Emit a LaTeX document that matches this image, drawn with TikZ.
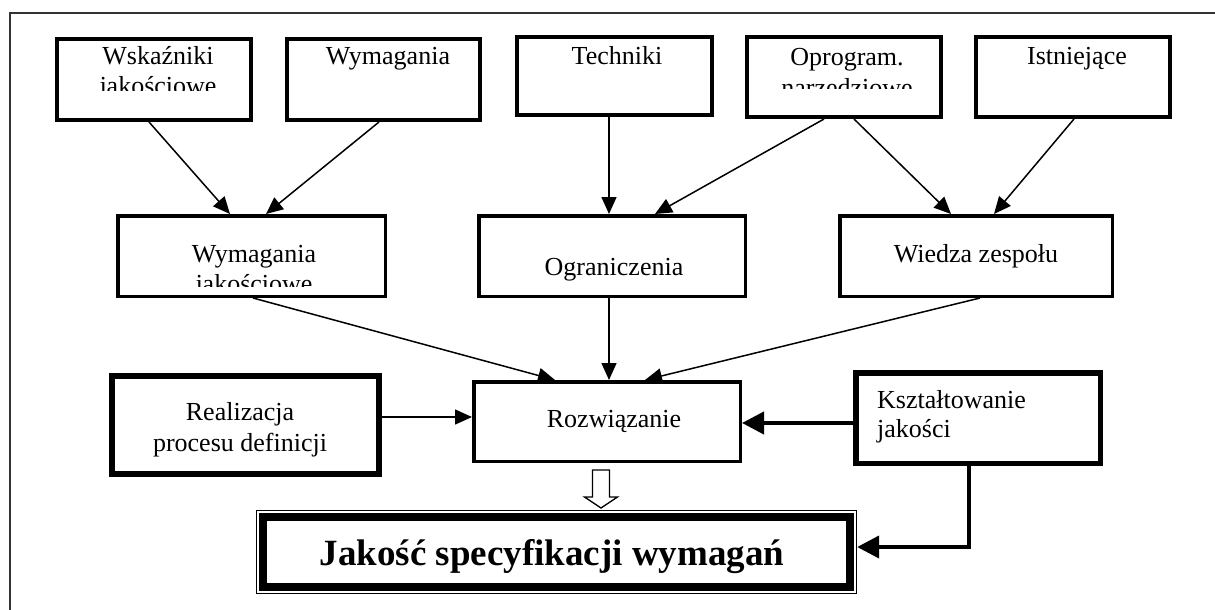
\documentclass[tikz,border=0pt]{standalone}
\usepackage{fontspec}
\setmainfont{Liberation Serif}
\usetikzlibrary{arrows.meta,calc}
\begin{document}
\begin{tikzpicture}[x=1pt,y=-1pt,
  box/.style={draw=black, line width=#1, fill=white, inner sep=0pt},
  box/.default=4pt,
  txt/.style={inner sep=0pt, anchor=base, font=\fontsize{26}{30}\selectfont},
  ltxt/.style={inner sep=0pt, anchor=base west, font=\fontsize{26}{30}\selectfont},
  bigtxt/.style={inner sep=0pt, anchor=base, font=\fontsize{37}{42}\selectfont\bfseries},
  arr/.style={line width=1.5pt, -{Triangle[length=17pt,width=15pt]}},
  thickarr/.style={line width=4pt, -{Triangle[length=22pt,width=22pt]}},
  frame/.style={line width=1.5pt, draw=black!80}
]
\useasboundingbox (0,0) rectangle (1215,610);
\clip (0,0) rectangle (1215,610);
\fill[white] (0,0) rectangle (1215,610);

% outer frame
\coordinate (frBL) at (10,650);
\coordinate (frTL) at (10,13);
\coordinate (frTR) at (1260,13);
\draw[frame] (frBL) -- (frTL) -- (frTR);

% top row
\node[box=4pt, minimum width=194pt, minimum height=81pt] (wsk) at (154,79.5) {};
\node[box=4pt, minimum width=193pt, minimum height=81pt] (wym) at (383.5,79.5) {};
\node[box=4pt, minimum width=195pt, minimum height=78pt] (tech) at (614.5,76) {};
\node[box=4pt, minimum width=194pt, minimum height=80pt] (opr) at (844,77) {};
\node[box=4pt, minimum width=194pt, minimum height=80pt] (ist) at (1073,77) {};

\begin{scope}
  \clip (55,37) rectangle (253,90);
  \node[txt] (twsk) at (158,65) {Wskaźniki};
  \node[txt] (twskb) at (158,95) {jakościowe};
\end{scope}
\node[txt] (twym) at (388,65) {Wymagania};
\node[txt] (ttech) at (617,65) {Techniki};
\begin{scope}
  \clip (745,35) rectangle (943,88);
  \node[txt] (topr) at (847,66) {Oprogram.};
  \node[txt] (toprb) at (847,96) {narzędziowe};
\end{scope}
\node[txt] (tist) at (1077,65) {Istniejące};

% middle row
\node[box=3.5pt, minimum width=267.5pt, minimum height=80.5pt] (wj) at (251.5,256) {};
\node[box=3.5pt, minimum width=266.5pt, minimum height=80.5pt] (ogr) at (612,256) {};
\node[box=3.5pt, minimum width=272.5pt, minimum height=80.5pt] (wie) at (976,256) {};

\begin{scope}
  \clip (116,214) rectangle (387,286);
  \node[txt] (twj) at (254,262) {Wymagania};
  \node[txt] (twjb) at (254,292) {jakościowe};
\end{scope}
\node[txt] (togr) at (614,275) {Ograniczenia};
\node[txt] (twie) at (976,262) {Wiedza zespołu};

% bottom row
\node[box=6pt, minimum width=267pt, minimum height=98pt] (real) at (245.5,425) {};
\node[box=3.5pt, minimum width=266.5pt, minimum height=79.5pt] (roz) at (607,421.5) {};
\node[box=5.5pt, minimum width=244.5pt, minimum height=90.5pt] (ksz) at (978,418) {};

\node[txt] (treal) at (240,420) {Realizacja};
\node[txt] (trealb) at (240,451) {procesu definicji};
\node[txt] (troz) at (614,427) {Rozwiązanie};
\node[ltxt] (tksz) at (877,408) {Kształtowanie};
\node[ltxt] (tkszb) at (877,437) {jakości};

% final box
\node[box=1.3pt, minimum width=600pt, minimum height=83pt] (fin) at (556.5,552) {};
\draw[line width=8pt] ([xshift=7.5pt,yshift=-7.5pt]fin.north west) rectangle ([xshift=-7.5pt,yshift=7.5pt]fin.south east);
\node[bigtxt] (tfin) at (552,565) {Jakość specyfikacji wymagań};

% connectors
\draw[arr] ([xshift=-5pt]wsk.south) -- ([xshift=-21.5pt]wj.north);
\draw[arr] ([xshift=-4.5pt]wym.south) -- ([xshift=14.5pt]wj.north);
\draw[arr] ([xshift=-5.5pt]tech.south) -- ([xshift=-3pt]ogr.north);
\draw[arr] ([xshift=-20pt]opr.south) -- ([xshift=43pt]ogr.north);
\draw[arr] ([xshift=10pt]opr.south) -- ([xshift=-25pt]wie.north);
\draw[arr] ([xshift=1pt]ist.south) -- ([xshift=18pt]wie.north);

\draw[arr] ([xshift=1.5pt]wj.south) -- ([xshift=-52pt]roz.north);
\draw[arr] ([xshift=-3pt]ogr.south) -- ([xshift=2pt]roz.north);
\draw[arr] ([xshift=4pt]wie.south) -- ([xshift=38pt]roz.north);

\draw[arr] ([yshift=8pt]real.east) -- ([yshift=8pt]real.east -| roz.west);
\draw[thickarr] ([yshift=-5pt]ksz.west) -- ([yshift=-5pt]ksz.west -| roz.east);
\draw[thickarr] ([xshift=-9pt]ksz.south) |- ([yshift=5pt]fin.east);

% hollow arrow
\coordinate (ha) at ([xshift=-6pt,yshift=-7pt]roz.south);
\draw[line width=1.3pt, fill=white] ([xshift=-8.5pt]ha) -- ++(0,27) -- ++(-8,0) -- ++(16.5,11) -- ++(16.5,-11) -- ++(-8,0) -- ++(0,-27) -- cycle;
\end{tikzpicture}
\end{document}
